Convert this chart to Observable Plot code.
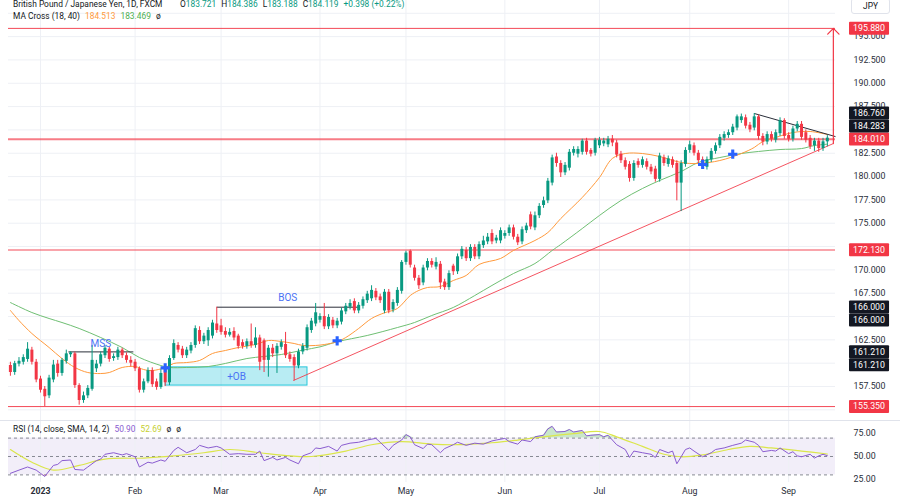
<!DOCTYPE html>
<html><head><meta charset="utf-8">
<script src="https://cdn.jsdelivr.net/npm/d3@7"></script>
<script src="https://cdn.jsdelivr.net/npm/@observablehq/plot@0.6"></script>
<style>
body{margin:0;background:#fff;font-family:Roboto,"Noto Sans",sans-serif;}
#wrap{position:relative;width:900px;height:500px;overflow:hidden;background:#fff;}
.hdr{position:absolute;font-size:8.4px;color:#131722;white-space:nowrap;line-height:10px;}
.hdr span{margin-left:5px;}
.hdr span.f{margin-left:0;}
#jpy{position:absolute;left:851px;top:-2px;width:37px;height:14px;border:1px solid #e0e3eb;border-radius:3px;background:#fff;font-size:8.4px;color:#131722;text-align:center;line-height:15px;}
#sep{position:absolute;left:0;top:420px;width:900px;height:1px;background:#e0e3eb;}
svg{position:absolute;left:0;}
</style></head><body><div id="wrap"></div><script>
// ---------- DATA ----------
const monthTicks = [7, 29, 49, 72, 92, 115, 137, 158, 181];
const monthLabels = ["2023", "Feb", "Mar", "Apr", "May", "Jun", "Jul", "Aug", "Sep"];
const open = [
159.75,159.0,159.9,160.1,160.4,161.4,160.1,158.3,157.2,156.5,
158.2,159.9,158.9,160.2,160.9,161.0,157.6,156.0,156.5,157.2,
159.4,159.9,160.8,161.5,160.5,160.6,161.4,160.8,160.3,160.1,
159.4,157.1,158.0,159.2,158.0,157.4,159.4,157.9,160.5,161.9,
161.5,160.8,161.3,161.9,163.5,162.3,162.4,162.9,164.2,164.0,
163.4,163.0,163.4,162.9,162.2,161.8,162.3,161.9,162.7,162.4,
160.3,161.6,161.0,161.7,162.0,160.9,160.6,159.7,161.2,161.6,
163.5,164.2,164.6,165.0,163.9,164.6,164.0,164.4,165.5,166.0,
166.6,165.6,166.1,166.7,166.9,167.7,167.1,165.6,167.6,165.7,
166.4,167.7,170.8,172.0,170.2,169.1,168.6,170.2,170.9,170.3,
170.6,168.7,168.1,170.4,169.8,171.4,172.1,171.2,172.4,171.4,
172.6,173.0,173.9,173.1,173.1,173.6,173.9,174.5,173.5,173.0,
174.2,175.9,174.5,175.8,176.9,177.4,179.3,182.1,181.4,180.4,
180.9,182.5,182.4,182.6,183.8,182.8,182.5,183.3,183.5,183.4,
184.0,183.6,182.4,181.7,181.3,179.8,181.6,181.2,181.6,181.0,
180.8,179.7,182.0,181.3,181.8,181.4,179.3,181.3,182.8,183.3,
182.5,181.8,181.0,181.8,182.7,183.3,184.1,184.4,184.7,185.2,
186.0,186.3,185.5,185.2,186.4,184.3,183.7,184.5,183.9,184.6,
186.0,184.4,184.0,185.1,185.6,184.7,184.1,183.3,183.8,183.0,
183.721];
const high = [
160.1,160.2,160.6,160.9,162.2,161.7,160.4,158.6,157.5,158.7,
160.3,160.3,160.5,161.4,161.21,161.2,157.8,156.9,157.6,161.9,
160.3,161.2,161.9,161.7,161.0,161.7,161.6,161.1,160.7,160.4,
159.6,158.3,159.5,159.5,158.3,159.3,159.6,160.8,162.5,162.2,
161.8,161.7,162.2,164.0,163.9,163.2,163.8,164.6,166.0,164.7,
163.8,163.7,163.8,163.1,162.5,162.6,164.2,163.8,163.0,162.6,
161.9,162.0,162.1,162.5,163.3,161.2,160.9,161.5,162.1,164.1,
164.8,166.4,165.3,166.4,165.2,164.9,164.8,165.9,166.4,166.8,
166.9,166.5,167.1,167.7,168.3,168.0,167.4,167.9,167.9,166.8,
168.1,171.0,172.0,172.13,170.5,169.4,170.5,171.2,171.2,171.3,
170.9,169.0,169.9,170.6,171.7,172.5,172.4,172.7,172.7,173.0,
173.6,173.9,174.3,173.7,174.5,174.2,174.8,174.8,173.8,174.6,
175.0,176.2,176.2,177.1,177.8,179.8,182.3,182.5,181.7,181.5,
182.9,183.2,183.2,184.0,184.1,183.0,184.1,184.2,184.1,184.3,
184.4,183.9,182.7,182.0,181.6,181.7,181.9,182.1,181.9,181.3,
181.1,182.5,182.3,182.2,182.1,181.7,181.7,183.1,183.8,183.6,
182.8,182.1,182.1,183.0,183.6,184.5,184.8,185.0,185.6,186.6,
186.7,186.6,185.8,186.76,186.6,184.6,184.8,184.8,185.0,186.3,
186.2,184.7,185.4,185.9,185.9,185.0,184.4,184.1,184.1,184.1,
184.386];
const low = [
158.6,158.7,159.6,159.8,160.1,159.8,157.9,156.8,155.35,156.2,
157.9,158.5,158.6,159.9,160.6,157.3,155.5,155.7,156.2,157.0,
159.0,159.6,160.5,160.1,160.2,160.3,160.5,160.0,159.6,159.1,
156.8,156.8,157.8,157.4,157.1,157.2,157.5,157.6,160.3,161.1,
160.5,160.5,161.0,161.6,162.0,162.0,161.8,162.6,163.2,163.0,
162.7,162.8,162.4,161.5,161.5,161.5,161.6,161.6,159.2,159.0,
158.5,160.6,158.9,161.4,160.5,160.1,158.1,159.4,160.9,161.3,
163.2,163.9,164.3,163.6,163.6,163.7,163.7,164.1,165.2,165.7,
165.3,165.3,165.8,166.4,166.6,166.7,166.4,165.3,165.3,165.4,
166.1,167.4,170.5,170.2,168.8,167.9,168.3,169.9,170.2,170.0,
167.9,167.8,167.8,169.4,169.5,171.1,170.9,170.9,171.1,171.1,
172.3,172.7,172.7,172.8,172.8,173.3,173.6,173.2,172.6,172.7,
173.9,174.3,174.2,175.5,176.6,177.1,179.0,181.0,179.9,180.1,
180.6,182.2,182.0,182.3,182.3,182.1,182.2,183.0,183.2,183.1,
183.2,182.0,181.4,180.7,179.4,179.5,180.9,180.9,180.7,180.2,
179.4,179.4,181.1,181.0,180.9,177.4,176.25,181.0,182.5,182.2,
181.4,180.9,180.7,181.5,182.4,183.0,183.8,184.1,184.4,184.9,
185.7,185.1,184.7,184.9,183.9,183.3,183.4,183.7,183.6,184.3,
184.0,183.7,183.7,184.8,183.9,183.6,182.9,182.7,182.6,182.7,
183.188];
const close = [
159.0,159.95,160.2,160.6,161.5,160.1,158.2,157.1,156.4,158.4,
159.8,158.9,160.3,161.0,161.1,157.6,156.0,156.5,157.3,160.3,
159.9,160.9,161.6,160.4,160.7,161.4,160.8,160.3,160.0,159.4,
157.1,158.0,159.2,157.7,157.4,158.9,157.9,160.5,162.1,161.4,
160.8,161.4,161.9,163.7,162.3,162.9,163.5,164.3,163.5,163.3,
163.0,163.3,162.7,161.8,161.8,162.3,161.9,162.7,160.1,160.3,
161.6,161.0,161.8,162.2,160.8,160.4,159.7,161.2,161.8,163.8,
164.5,165.4,165.0,163.9,164.9,164.0,164.5,165.6,166.1,166.4,
165.6,166.2,166.8,167.4,167.8,167.0,166.7,167.6,165.6,166.5,
167.8,170.8,171.8,170.5,169.1,168.3,170.2,170.9,170.5,170.8,
168.6,168.1,169.6,169.8,171.4,172.2,171.2,172.4,171.4,172.7,
173.1,173.5,173.0,173.4,174.2,173.9,174.5,173.5,172.9,174.3,
174.7,174.6,175.8,176.8,177.4,179.5,182.0,181.4,180.4,181.2,
182.6,182.9,182.9,183.8,182.6,182.4,183.9,183.9,183.8,184.0,
183.6,182.3,181.7,181.0,179.8,181.4,181.2,181.8,181.0,180.5,
179.7,182.2,181.4,181.9,181.2,179.3,181.4,182.8,183.4,182.5,
181.7,181.2,181.8,182.7,183.3,184.2,184.5,184.7,185.3,186.4,
186.4,185.4,185.0,186.4,184.3,183.7,184.5,184.0,184.7,186.0,
184.3,184.0,185.1,185.6,184.2,183.9,183.2,183.8,183.0,183.721,
184.119];
// moving averages: [bar index, price]
const ma18Pts = [[0,165.65],[2,164.57],[5,163.18],[9,161.68],[12,160.5],[15,159.54],[18,159.0],[21,158.89],[23,159.0],[26,159.54],[29,159.64],[31,159.32],[33,159.21],[36,159.54],[38,159.97],[41,160.07],[44,160.29],[47,161.04],[50,161.36],[53,161.68],[57,162.0],[60,162.43],[63,162.32],[66,162.11],[68,161.9],[71,161.9],[73,162.0],[76,162.3],[78,162.75],[81,163.72],[84,164.79],[87,165.4],[90,165.86],[93,167.25],[95,167.8],[97,168.11],[100,168.22],[103,168.86],[106,169.4],[109,170.58],[114,171.22],[117,172.08],[122,173.15],[125,174.0],[128,175.5],[133,177.76],[137,179.9],[140,181.94],[143,182.47],[147,182.47],[151,182.15],[156,181.51],[160,181.4],[165,181.72],[170,182.47],[173,183.12],[175,183.76],[178,184.19],[182,184.72],[186,184.83],[190,184.513]];
const ma40Pts = [[0,166.5],[5,165.43],[9,164.79],[12,164.36],[16,163.72],[21,162.75],[26,161.68],[30,160.61],[35,159.75],[37,159.54],[41,159.54],[46,159.64],[50,159.97],[55,160.5],[59,160.72],[63,160.93],[68,161.4],[72,161.75],[76,162.3],[83,162.97],[90,163.82],[94,164.36],[98,165.11],[103,165.97],[108,167.25],[112,168.33],[117,169.61],[122,170.68],[126,172.08],[128,172.72],[133,174.43],[137,175.83],[142,177.44],[147,178.72],[151,179.58],[156,180.54],[160,181.51],[165,182.04],[170,182.47],[174,182.69],[179,182.9],[184,183.0],[187,183.33],[190,183.469]];
const crossPts = [[36,159.5],[76,162.4],[161,181.3],[168,182.4]];
// RSI (14) and its SMA (14): [bar index, value]
const rsiPts = [[0,31.7],[2,35.2],[4,38.6],[6,35.2],[7,31.7],[8,28.3],[10,40.3],[11,41.4],[12,45.5],[14,46.2],[15,35.9],[17,35.2],[18,38.6],[20,45.5],[21,47.2],[22,52.4],[24,54.1],[26,51.7],[27,53.1],[29,49.7],[30,38.6],[32,43.8],[33,42.8],[35,46.2],[36,44.8],[38,56.6],[39,60.0],[41,54.1],[43,57.6],[44,62.1],[46,59.3],[48,61.0],[49,59.3],[51,52.4],[53,53.1],[55,52.4],[57,52.4],[58,55.9],[59,45.5],[61,49.0],[62,46.2],[64,49.0],[65,46.2],[67,42.1],[68,50.7],[70,54.1],[71,59.3],[72,58.6],[74,61.0],[76,55.9],[77,62.1],[79,64.5],[81,65.5],[83,67.9],[85,69.7],[86,65.5],[88,56.6],[89,62.1],[91,67.9],[92,73.8],[93,71.4],[94,62.8],[96,58.6],[97,63.4],[98,62.8],[100,54.1],[101,58.6],[103,62.8],[104,65.5],[106,62.1],[108,64.5],[110,63.4],[112,66.9],[113,67.9],[115,69.7],[116,66.2],[118,63.4],[119,67.9],[121,66.2],[122,71.4],[124,73.1],[125,80.0],[126,82.8],[127,76.6],[129,77.2],[130,79.3],[131,76.6],[133,78.3],[134,72.4],[135,73.1],[137,73.8],[138,71.4],[139,73.1],[141,62.8],[143,57.6],[144,49.0],[145,55.9],[147,54.1],[149,52.4],[150,49.0],[151,57.6],[153,54.1],[154,55.9],[155,42.1],[156,49.7],[157,57.6],[158,59.3],[159,55.9],[161,49.7],[163,54.1],[164,57.6],[166,59.3],[168,62.1],[170,64.5],[171,67.9],[173,65.5],[174,62.1],[175,55.2],[177,56.6],[178,55.9],[179,59.3],[181,53.1],[182,55.2],[183,50.7],[184,49.7],[186,52.4],[187,48.3],[188,50.7],[189,52.4],[190,50.90]];
const rsiMaPts = [[0,57.6],[5,43.8],[10,35.2],[16,40.3],[22,47.2],[31,48.3],[38,50.7],[45,54.1],[51,57.6],[58,54.1],[65,50.7],[70,50.0],[78,55.9],[84,62.8],[91,66.2],[98,63.4],[104,62.8],[111,64.5],[118,67.9],[124,71.4],[131,74.8],[137,77.2],[141,71.4],[147,61.0],[152,52.4],[156,49.7],[161,51.7],[167,57.6],[172,61.0],[177,59.3],[184,55.9],[190,52.69]];
// drawings
const levelPrices = [195.88, 184.01, 172.13, 155.35];
const mss = {i1: 13.5, i2: 28.6, p: 161.21};
const bos = {i1: 48, i2: 81, p: 166.0};
const ob = {i1: 36.1, i2: 69.1, top: 159.55, bottom: 157.6};
const triangle = {i1: 173, p1: 186.76, i2: 191.9, p2: 184.283};
const trend = {i1: 65.8, p1: 158.14, i2: 191.4, p2: 183.54};
const target = {i: 191.4, from: 183.54, to: 195.88};
const priceTicks = d3.range(155, 198, 2.5);
const rsiTicks = [25, 50, 75];

// ---------- BUILD ----------
const GREEN = "#089981", RED = "#f23645", INK = "#131722", FONT = "Roboto, 'Noto Sans', sans-serif";
const MAIN_H = 421;
const xDomain = [-0.44, 191.9];
const yDomain = [153.75, 198.87];
const bars = close.map((c, i) => ({i, o: open[i], h: high[i], l: low[i], c, up: c >= open[i]}));
const toObj = ([i, v]) => ({i, v});
const ma18 = ma18Pts.map(toObj), ma40 = ma40Pts.map(toObj), crosses = crossPts.map(toObj);
const rsi = rsiPts.map(toObj), rsiMa = rsiMaPts.map(toObj);
const fmt3 = d3.format(".3f"), fmt2 = d3.format(".2f");
const tags = [
  ...levelPrices.map(v => ({v, fill: RED, fixed: true})),
  {v: triangle.p2, fill: INK}, {v: triangle.p1, fill: INK},
  {v: bos.p, fill: INK}, {v: bos.p, fill: INK},
  {v: mss.p, fill: INK}, {v: mss.p, fill: INK}
];
// price-tag layout: avoid overlaps like the trading app does
const yS = Plot.scale({y: {domain: yDomain, range: [MAIN_H, 0]}});
const placed = [];
tags.forEach(t => {
  const y0 = yS.apply(t.v);
  let y = y0;
  if (!t.fixed) {
    for (let it = 0; it < 6; it++) {
      let moved = false;
      for (const p of placed) if (Math.abs(y - p) < 13) { y = y < p ? p - 13 : p + 13; moved = true; }
      if (!moved) break;
    }
  }
  placed.push(y);
  t.shift = y - y0;
  t.ypx = y;
});
// hide tick labels that sit fully under a tag (or under the JPY box)
const shownTicks = priceTicks.filter(v => v < 197 && !tags.some(t => Math.abs(yS.apply(v) - t.ypx) < 5));
const baseStyle = {background: "transparent", fontFamily: FONT, fontSize: "8.8px", color: INK, overflow: "visible"};

const main = Plot.plot({
  width: 900, height: MAIN_H, marginLeft: 8, marginRight: 65, marginTop: 0, marginBottom: 0,
  style: baseStyle,
  x: {domain: xDomain, axis: null},
  y: {domain: yDomain, axis: null},
  marks: [
    Plot.gridX(monthTicks, {stroke: "#eef0f5", strokeOpacity: 1}),
    Plot.gridY(priceTicks, {stroke: "#eef0f5", strokeOpacity: 1}),
    Plot.axisY(shownTicks, {anchor: "right", tickSize: 0, tickPadding: 18, tickFormat: fmt3, fill: "#2a2e39", fontSize: 8.8, label: null}),
    Plot.rect([ob], {x1: "i1", x2: "i2", y1: "bottom", y2: "top", fill: "#00bcd4", fillOpacity: 0.28, stroke: "#26c6da", strokeWidth: 1}),
    Plot.ruleY(levelPrices, {stroke: RED, strokeWidth: d => d === 184.01 ? 2 : 1, strokeOpacity: d => d === 184.01 ? 0.65 : 0.9}),
    Plot.line(ma40, {x: "i", y: "v", stroke: "#6fbf73", strokeWidth: 1, curve: "catmull-rom"}),
    Plot.line(ma18, {x: "i", y: "v", stroke: "#ff9a3c", strokeWidth: 1, curve: "catmull-rom"}),
    Plot.link([trend], {x1: "i1", y1: "p1", x2: "i2", y2: "p2", stroke: RED, strokeOpacity: 0.85, strokeWidth: 1}),
    Plot.link([triangle], {x1: "i1", y1: "p1", x2: "i2", y2: "p2", stroke: "#2a2e39", strokeWidth: 1}),
    Plot.link([mss, bos], {x1: "i1", y1: "p", x2: "i2", y2: "p", stroke: "#2a2e39", strokeWidth: 1}),
    Plot.ruleX(bars, {x: "i", y1: "l", y2: "h", stroke: d => d.up ? GREEN : RED, strokeWidth: 1}),
    Plot.ruleX(bars, {x: "i", y1: "o", y2: "c", stroke: d => d.up ? GREEN : RED, strokeWidth: 3, strokeLinecap: "butt"}),
    Plot.dot(crosses, {x: "i", y: "v", symbol: "cross", fill: "#2962ff", stroke: null, r: 3.9}),
    Plot.text([mss], {x: d => (d.i1 + d.i2) / 2, y: "p", text: () => "MSS", dy: -8, fill: "#4a72f5", fontSize: 10}),
    Plot.text([bos], {x: d => (d.i1 + d.i2) / 2, y: "p", text: () => "BOS", dy: -9, fill: "#4a72f5", fontSize: 10}),
    Plot.text([ob], {x: d => (d.i1 + d.i2) / 2, y: d => (d.top + d.bottom) / 2, text: () => "+OB", fill: "#4a72f5", fontSize: 10}),
    Plot.arrow([target], {x: "i", y1: "from", y2: "to", stroke: RED, strokeWidth: 1.2, headLength: 10, headAngle: 90}),
    Plot.text(tags, {y: "v", text: d => fmt3(d.v), frameAnchor: "right", textAnchor: "middle", dx: 33.5, fill: "white", fontSize: 8.8, className: "ptag"})
  ]
});

const rsiChart = Plot.plot({
  width: 900, height: 79, marginLeft: 8, marginRight: 65, marginTop: 0, marginBottom: 18,
  style: baseStyle,
  x: {domain: xDomain, axis: null},
  y: {domain: [21.74, 88.04], axis: null},
  marks: [
    Plot.rect([{}], {y1: 30, y2: 70, fill: "#7e57c2", fillOpacity: 0.1}),
    Plot.gridX(monthTicks, {stroke: "#eef0f5", strokeOpacity: 1}),
    Plot.ruleY([70, 50, 30], {stroke: "#868993", strokeDasharray: "3,3", strokeWidth: 1}),
    Plot.areaY(rsi, {x: "i", y1: 70, y2: d => Math.max(70, d.v), fill: "#4caf50", fillOpacity: 0.3}),
    Plot.areaY(rsi, {x: "i", y1: 30, y2: d => Math.min(30, d.v), fill: "#f23645", fillOpacity: 0.2}),
    Plot.line(rsiMa, {x: "i", y: "v", stroke: "#dbe64a", strokeWidth: 1.2, curve: "catmull-rom"}),
    Plot.line(rsi, {x: "i", y: "v", stroke: "#8a5cd0", strokeWidth: 1}),
    Plot.axisY(rsiTicks, {anchor: "right", tickSize: 0, tickPadding: 18, tickFormat: fmt2, fill: "#2a2e39", fontSize: 8.8, label: null}),
    Plot.axisX(monthTicks, {anchor: "bottom", tickSize: 0, tickPadding: 5, fontSize: 8.8, fill: "#2a2e39", label: null,
      tickFormat: d => monthLabels[monthTicks.indexOf(d)]})
  ]
});

const wrap = document.getElementById("wrap");
main.style.top = "0px";
rsiChart.style.top = MAIN_H + "px";
wrap.appendChild(main);
wrap.appendChild(rsiChart);

// header texts from data
const n = close.length - 1;
const chg = close[n] - close[n - 1];
const g = v => `<span class="f" style="color:${GREEN}">${v}</span>`;
function hdr(top, left, html) {
  const d = document.createElement("div");
  d.className = "hdr"; d.style.top = top + "px"; d.style.left = left + "px"; d.innerHTML = html;
  wrap.appendChild(d);
}
hdr(-1, 13, `<span class="f">British Pound / Japanese Yen, 1D, FXCM</span>`);
hdr(-1, 180, `<span class="f">O${g(fmt3(open[n]))}</span><span>H${g(fmt3(high[n]))}</span><span>L${g(fmt3(low[n]))}</span><span>C${g(fmt3(close[n]))}</span><span style="color:${GREEN}">${chg >= 0 ? "+" : ""}${fmt3(chg)} (${chg >= 0 ? "+" : ""}${(chg / close[n - 1] * 100).toFixed(2)}%)</span>`);
hdr(11, 13, `<span class="f">MA Cross (18, 40)</span><span style="color:#ff9a3c">${fmt3(ma18Pts[ma18Pts.length-1][1])}</span><span style="color:#4caf50">${fmt3(ma40Pts[ma40Pts.length-1][1])}</span><span>ø</span>`);
hdr(424, 13, `<span class="f">RSI (14, close, SMA, 14, 2)</span><span style="color:#8a5cd0">${fmt2(rsiPts[rsiPts.length-1][1])}</span><span style="color:#c5cf2f">${fmt2(rsiMaPts[rsiMaPts.length-1][1])}</span><span>ø</span><span>ø</span>`);
const jpy = document.createElement("div"); jpy.id = "jpy"; jpy.textContent = "JPY"; wrap.appendChild(jpy);
const sep = document.createElement("div"); sep.id = "sep"; wrap.appendChild(sep);

// bold year label
d3.select(rsiChart).selectAll("g[aria-label='x-axis tick label'] text").filter((d, k) => k === 0).attr("font-weight", "bold");

// boxes behind the price tags
d3.select(main).selectAll(".ptag text").each(function (_, k) {
  const t = tags[k];
  const grp = d3.select(this.parentNode).append("g").attr("transform", `translate(0,${t.shift})`);
  grp.node().appendChild(this);
  const b = this.getBBox();
  grp.insert("rect", "text")
    .attr("transform", this.getAttribute("transform"))
    .attr("x", b.x - 4).attr("y", b.y - 1.5).attr("width", b.width + 8).attr("height", b.height + 3)
    .attr("fill", t.fill).attr("rx", 1);
});
</script></body></html>
